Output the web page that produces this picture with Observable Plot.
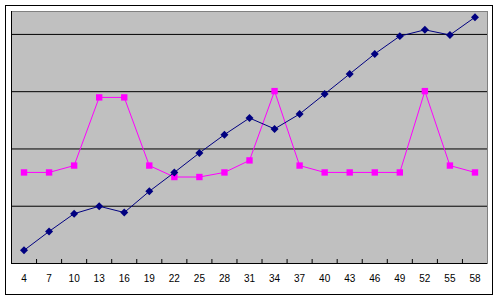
<!DOCTYPE html>
<html><head><meta charset="utf-8">
<script src="https://cdn.jsdelivr.net/npm/d3@7"></script>
<script src="https://cdn.jsdelivr.net/npm/@observablehq/plot@0.6"></script>
<style>body{margin:0;background:#fff;} svg{display:block;}</style>
</head><body><div id="chart"></div>
<script>
const categories = [4,7,10,13,16,19,22,25,28,31,34,37,40,43,46,49,52,55,58];
const blueSeries = [2.3,5.6,8.7,10.0,8.9,12.6,15.9,19.3,22.5,25.4,23.5,26.1,29.6,33.1,36.6,39.7,40.8,39.9,43.0];
const pinkSeries = [15.9,15.9,17.1,29.0,29.0,17.1,15.1,15.1,15.9,18.0,30.1,17.1,15.9,15.9,15.9,15.9,30.1,17.1,15.9];
const gridValues = [10,20,30,40];

const step = categories[1]-categories[0];
const xDomain = [categories[0]-step/2, categories[categories.length-1]+step/2];
const boundaries = categories.slice(0,-1).map(c => c + step/2);
const blue = categories.map((c,i)=>({x:c,y:blueSeries[i]}));
const pink = categories.map((c,i)=>({x:c,y:pinkSeries[i]}));

const chart = Plot.plot({
  width: 500, height: 300,
  marginLeft: 11, marginRight: 13, marginTop: 11, marginBottom: 37,
  style: {fontFamily: "Arial, 'Liberation Sans', sans-serif", fontSize: "10px", background: "#fff"},
  x: {type: "linear", domain: xDomain, axis: null, label: null},
  y: {domain: [0, 44], axis: null, label: null},
  marks: [
    Plot.frame({stroke: "black", insetLeft: -6, insetTop: -6, insetRight: -5, insetBottom: -31}),
    Plot.frame({fill: "#c0c0c0", stroke: "#808080"}),
    Plot.ruleY(gridValues, {stroke: "black", strokeWidth: 1}),
    Plot.ruleY([0], {stroke: "black"}),
    Plot.ruleX([xDomain[0]], {stroke: "black"}),
    Plot.axisX({ticks: boundaries, tickFormat: () => "", tickSize: 4, dy: -4, stroke: "black", label: null}),
    Plot.axisX({ticks: categories, tickSize: 0, tickPadding: 11, tickFormat: d => String(d), fill: "black", label: null, style: "letter-spacing:1.5px"}),
    Plot.line(pink, {x: "x", y: "y", stroke: "#ff00ff", strokeWidth: 1}),
    Plot.dot(pink, {x: "x", y: "y", symbol: "square", r: 3.6, fill: "#ff00ff", stroke: "none"}),
    Plot.line(blue, {x: "x", y: "y", stroke: "#000080", strokeWidth: 1}),
    Plot.dot(blue, {x: "x", y: "y", symbol: "diamond2", r: 3.6, fill: "#000080", stroke: "none"})
  ]
});
document.getElementById("chart").appendChild(chart);
</script>
</body></html>
